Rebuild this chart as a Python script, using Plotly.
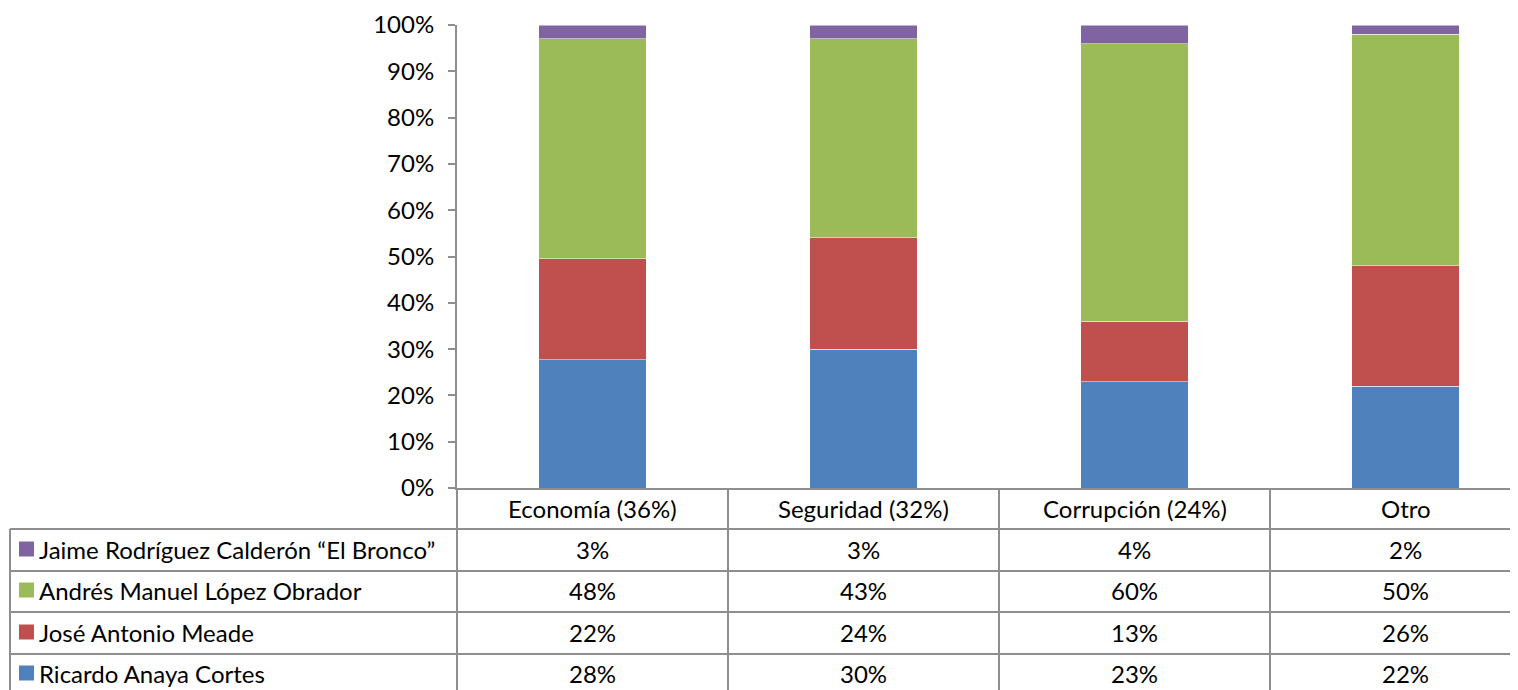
import plotly.graph_objects as go

# categorias y valores (tabla del grafico)
categories = ['Economía (36%)', 'Seguridad (32%)', 'Corrupción (24%)', 'Otro']
candidates = ['Ricardo Anaya Cortes', 'José Antonio Meade',
              'Andrés Manuel López Obrador', 'Jaime Rodríguez Calderón “El Bronco”']
anaya = [28, 30, 23, 22]
meade = [22, 24, 13, 26]
amlo = [48, 43, 60, 50]
bronco = [3, 3, 4, 2]
colors = ['#4F81BD', '#C0504D', '#9BBB59', '#8064A2']
y_ticks = [0, 10, 20, 30, 40, 50, 60, 70, 80, 90, 100]

series = [anaya, meade, amlo, bronco]

# the page puts the figure 8px in from the top-left corner
OFF = 8
W, H = 1518 - OFF, 690 - OFF
L, T = 457 - OFF, 25 - OFF
B = H - (488 - OFF)
plot_h = H - T - B
plot_w = W - L
cat_w = 271
x_max = -0.5 + plot_w / cat_w

FONT = 'Lato'
FS = 24
GRID = '#8E8E8E'


def py(p):
    # window pixel y -> paper y
    return (H - B - (p - OFF)) / plot_h


def px_(p):
    # window pixel x -> paper x
    return (p - OFF - L) / plot_w


fig = go.Figure()
for name, vals, col in zip(candidates, series, colors):
    fig.add_trace(go.Bar(
        x=list(range(len(categories))),
        y=vals,
        name=name,
        marker=dict(color=col, line=dict(color='rgba(255,255,255,0.5)', width=1)),
        width=0.395,
    ))

shapes = []
annotations = []

# horizontal lines of the table
row_lines = [529, 571, 612, 654]
for yl in row_lines:
    shapes.append(dict(type='line', xref='paper', yref='paper',
                       x0=px_(10), x1=1, y0=py(yl), y1=py(yl),
                       line=dict(color=GRID, width=2)))
# left border
shapes.append(dict(type='line', xref='paper', yref='paper',
                   x0=px_(10), x1=px_(10), y0=py(529), y1=py(700),
                   line=dict(color=GRID, width=2)))
# column separators
for i in range(len(categories)):
    shapes.append(dict(type='line', xref='x', yref='paper',
                       x0=i + 0.5, x1=i + 0.5, y0=0, y1=py(700),
                       line=dict(color=GRID, width=2)))
shapes.append(dict(type='line', xref='paper', yref='paper',
                   x0=0, x1=0, y0=0, y1=py(700),
                   line=dict(color=GRID, width=2)))

# header row
for i, c in enumerate(categories):
    annotations.append(dict(x=i, y=py(508), xref='x', yref='paper', text=c,
                            showarrow=False, xanchor='center', yanchor='middle',
                            font=dict(size=FS, color='black', family=FONT)))

# data rows (top to bottom: bronco, amlo, meade, anaya)
row_centers = [549, 590, 632, 673]
for r, k in enumerate([3, 2, 1, 0]):
    yc = row_centers[r]
    shapes.append(dict(type='rect', xref='paper', yref='paper',
                       x0=px_(19), x1=px_(34), y0=py(yc + 7.5), y1=py(yc - 7.5),
                       fillcolor=colors[k], line=dict(width=0)))
    annotations.append(dict(x=px_(37), y=py(yc), xref='paper', yref='paper',
                            text=candidates[k], showarrow=False,
                            xanchor='left', yanchor='middle',
                            font=dict(size=FS, color='black', family=FONT)))
    for i, v in enumerate(series[k]):
        annotations.append(dict(x=i, y=py(yc), xref='x', yref='paper',
                                text=f'{v}%', showarrow=False,
                                xanchor='center', yanchor='middle',
                                font=dict(size=FS, color='black', family=FONT)))

fig.update_layout(
    width=W, height=H,
    barmode='stack', barnorm='percent',
    showlegend=False,
    margin=dict(l=L, r=0, t=T, b=B),
    paper_bgcolor='white', plot_bgcolor='white',
    font=dict(family=FONT, size=FS, color='black'),
    xaxis=dict(range=[-0.5, x_max], showticklabels=False, showgrid=False,
               zeroline=False, showline=True, linecolor=GRID, linewidth=2,
               ticks=''),
    yaxis=dict(range=[0, 100], tickvals=y_ticks,
               ticktext=[f'{v}%' for v in y_ticks],
               showgrid=False, zeroline=False, showline=True,
               linecolor=GRID, linewidth=2, ticks='outside', ticklen=7,
               tickcolor=GRID, tickwidth=2, ticklabelstandoff=9,
               tickfont=dict(size=FS, color='black', family=FONT)),
    shapes=shapes,
    annotations=annotations,
)

fig.write_html('out.html')
